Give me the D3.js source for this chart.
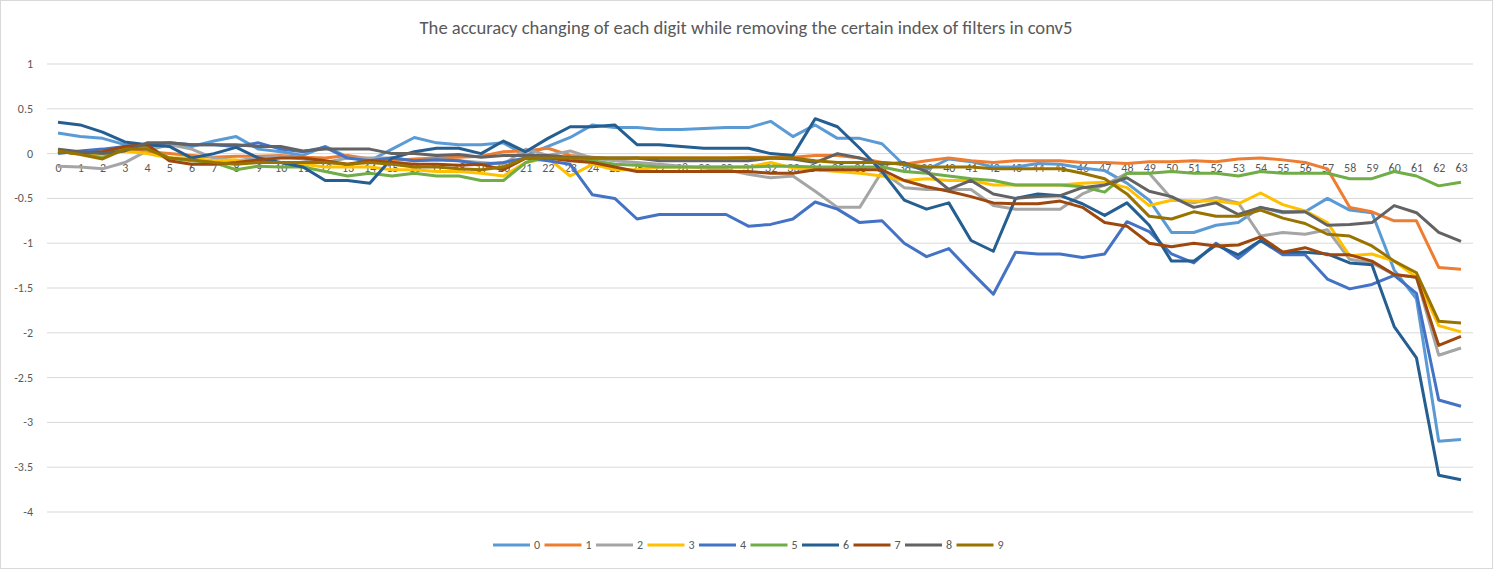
<!DOCTYPE html>
<html>
<head>
<meta charset="utf-8">
<script src="https://cdn.jsdelivr.net/npm/d3@7"></script>
<style>
  body { margin: 0; background: #fff; }
  text { font-family: Carlito, Calibri, "Liberation Sans", sans-serif; fill: #595959; }
</style>
</head>
<body>
<svg id="chart" width="1493" height="569"></svg>
<script>
const indices = d3.range(64);
const seriesNames = ["0", "1", "2", "3", "4", "5", "6", "7", "8", "9"];
const colors = ["#5B9BD5", "#ED7D31", "#A5A5A5", "#FFC000", "#4472C4", "#70AD47", "#255E91", "#9E480E", "#636363", "#997300"];
const yTicks = [1, 0.5, 0, -0.5, -1, -1.5, -2, -2.5, -3, -3.5, -4];

const d0 = [0.23,0.19,0.17,0.1,0.08,0.1,0.08,0.14,0.19,0.05,0.02,-0.02,0.08,-0.04,-0.08,0.05,0.18,0.12,0.1,0.1,0.12,-0.02,0.08,0.18,0.32,0.29,0.29,0.27,0.27,0.28,0.29,0.29,0.36,0.19,0.32,0.17,0.17,0.11,-0.13,-0.18,-0.06,-0.09,-0.15,-0.15,-0.11,-0.12,-0.16,-0.19,-0.33,-0.52,-0.88,-0.88,-0.80,-0.77,-0.6,-0.66,-0.65,-0.5,-0.63,-0.66,-1.3,-1.62,-3.21,-3.19];
const d1 = [0.02,0,0.02,0.05,0.02,0,-0.02,-0.04,-0.03,-0.03,-0.02,-0.04,-0.05,-0.02,-0.06,-0.08,-0.06,-0.05,-0.04,-0.03,0.02,0.03,0.06,-0.02,-0.04,-0.06,-0.05,-0.05,-0.05,-0.05,-0.05,-0.04,-0.04,-0.04,-0.02,-0.02,-0.05,-0.1,-0.12,-0.08,-0.05,-0.08,-0.1,-0.08,-0.08,-0.08,-0.1,-0.1,-0.11,-0.09,-0.09,-0.08,-0.09,-0.06,-0.05,-0.07,-0.1,-0.17,-0.6,-0.65,-0.75,-0.75,-1.27,-1.29];
const d2 = [-0.14,-0.15,-0.17,-0.1,0.03,0.1,0.05,-0.05,-0.08,-0.05,-0.03,-0.06,-0.1,-0.05,-0.05,-0.05,-0.08,-0.07,-0.08,-0.1,-0.12,0.05,-0.02,0.03,-0.05,-0.08,-0.1,-0.12,-0.14,-0.16,-0.18,-0.23,-0.27,-0.25,-0.42,-0.6,-0.6,-0.2,-0.38,-0.4,-0.4,-0.4,-0.58,-0.62,-0.62,-0.62,-0.45,-0.35,-0.22,-0.22,-0.5,-0.55,-0.49,-0.55,-0.92,-0.88,-0.9,-0.85,-1.18,-1.22,-1.35,-1.38,-2.25,-2.17];
const d3v = [0.05,0,-0.02,0.03,0,-0.05,-0.05,-0.08,-0.07,-0.1,-0.1,-0.12,-0.15,-0.15,-0.15,-0.18,-0.18,-0.2,-0.2,-0.22,-0.25,-0.1,-0.05,-0.25,-0.12,-0.18,-0.18,-0.15,-0.15,-0.15,-0.15,-0.15,-0.1,-0.16,-0.18,-0.2,-0.22,-0.25,-0.3,-0.28,-0.3,-0.3,-0.35,-0.35,-0.35,-0.35,-0.33,-0.32,-0.38,-0.58,-0.52,-0.53,-0.53,-0.56,-0.44,-0.57,-0.64,-0.77,-1.14,-1.12,-1.2,-1.38,-1.92,-1.99];
const d4 = [0,0.03,0.05,0.08,0.1,0.12,0.1,0.1,0.08,0.12,0.05,0.02,0.07,-0.05,-0.08,-0.05,-0.08,-0.07,-0.08,-0.12,-0.1,-0.05,-0.08,-0.12,-0.46,-0.5,-0.73,-0.68,-0.68,-0.68,-0.68,-0.81,-0.79,-0.73,-0.54,-0.62,-0.77,-0.75,-1.0,-1.15,-1.06,-1.32,-1.57,-1.1,-1.12,-1.12,-1.16,-1.12,-0.76,-0.87,-1.12,-1.22,-1.0,-1.17,-0.97,-1.13,-1.13,-1.4,-1.51,-1.46,-1.36,-1.56,-2.75,-2.82];
const d5 = [0.02,0,-0.05,0.08,0.08,-0.05,-0.08,-0.1,-0.18,-0.14,-0.15,-0.15,-0.2,-0.25,-0.22,-0.25,-0.22,-0.25,-0.25,-0.3,-0.3,-0.1,-0.03,-0.05,-0.08,-0.12,-0.13,-0.15,-0.15,-0.15,-0.15,-0.15,-0.14,-0.14,-0.15,-0.15,-0.15,-0.15,-0.2,-0.22,-0.25,-0.28,-0.3,-0.35,-0.35,-0.35,-0.37,-0.43,-0.22,-0.22,-0.2,-0.22,-0.22,-0.25,-0.2,-0.22,-0.22,-0.22,-0.28,-0.28,-0.2,-0.25,-0.36,-0.32];
const d6 = [0.35,0.32,0.24,0.13,0.1,0.08,-0.05,0,0.07,-0.05,-0.1,-0.15,-0.3,-0.3,-0.33,-0.05,0.02,0.06,0.06,0,0.14,0.02,0.17,0.3,0.3,0.32,0.1,0.1,0.08,0.06,0.06,0.06,0,-0.02,0.39,0.3,0.06,-0.2,-0.52,-0.62,-0.55,-0.97,-1.09,-0.5,-0.45,-0.47,-0.56,-0.69,-0.55,-0.8,-1.2,-1.2,-1.02,-1.13,-0.97,-1.1,-1.1,-1.12,-1.22,-1.24,-1.93,-2.28,-3.59,-3.64];
const d7 = [0.02,0,0.02,0.08,0.1,-0.08,-0.12,-0.12,-0.1,-0.07,-0.05,-0.05,-0.08,-0.12,-0.08,-0.1,-0.12,-0.12,-0.13,-0.12,-0.18,-0.05,-0.05,-0.08,-0.1,-0.15,-0.2,-0.2,-0.2,-0.2,-0.2,-0.2,-0.22,-0.22,-0.18,-0.18,-0.18,-0.18,-0.3,-0.37,-0.42,-0.48,-0.55,-0.56,-0.56,-0.53,-0.6,-0.77,-0.81,-1.0,-1.04,-1.0,-1.03,-1.02,-0.93,-1.1,-1.05,-1.13,-1.13,-1.2,-1.35,-1.38,-2.14,-2.04];
const d8 = [0.05,0.02,0,0.03,0.12,0.12,0.1,0.1,0.1,0.08,0.08,0.03,0.05,0.05,0.05,0,0,-0.02,-0.01,-0.04,-0.02,-0.02,-0.02,-0.04,-0.05,-0.05,-0.05,-0.08,-0.08,-0.08,-0.08,-0.08,-0.05,-0.06,-0.1,0,-0.05,-0.12,-0.1,-0.2,-0.4,-0.3,-0.45,-0.5,-0.48,-0.47,-0.38,-0.35,-0.27,-0.42,-0.48,-0.6,-0.55,-0.68,-0.6,-0.65,-0.65,-0.8,-0.79,-0.77,-0.58,-0.66,-0.88,-0.98];
const d9 = [0.03,-0.01,-0.06,0.05,0.05,-0.05,-0.07,-0.1,-0.12,-0.1,-0.1,-0.1,-0.1,-0.12,-0.1,-0.12,-0.15,-0.15,-0.17,-0.18,-0.15,-0.05,-0.05,-0.05,-0.05,-0.05,-0.05,-0.05,-0.05,-0.05,-0.05,-0.05,-0.05,-0.05,-0.08,-0.1,-0.1,-0.1,-0.12,-0.15,-0.15,-0.15,-0.17,-0.17,-0.17,-0.17,-0.22,-0.28,-0.45,-0.7,-0.73,-0.65,-0.7,-0.7,-0.63,-0.72,-0.78,-0.9,-0.92,-1.03,-1.2,-1.33,-1.87,-1.89];
const seriesData = [d0, d1, d2, d3v, d4, d5, d6, d7, d8, d9];

const svg = d3.select("#chart");

// chart border
svg.append("rect")
    .attr("x", 0.5).attr("y", 0.5)
    .attr("width", 1492).attr("height", 568)
    .attr("fill", "#fff").attr("stroke", "#d9d9d9");

svg.append("text")
    .attr("x", 746).attr("y", 34)
    .attr("text-anchor", "middle")
    .attr("font-size", 18.6)
    .text("The accuracy changing of each digit while removing the certain index of filters in conv5");

const x = d3.scalePoint().domain(indices).range([58, 1461]);
const y = d3.scaleLinear().domain([-4, 1]).range([512, 64]);

// gridlines
svg.append("g")
    .selectAll("line")
    .data(yTicks)
    .join("line")
    .attr("x1", 47).attr("x2", 1473)
    .attr("y1", d => y(d)).attr("y2", d => y(d))
    .attr("stroke", "#d9d9d9").attr("stroke-width", 1);

// y labels
svg.append("g")
    .selectAll("text")
    .data(yTicks)
    .join("text")
    .attr("x", 33).attr("y", d => y(d) + 4)
    .attr("text-anchor", "end")
    .attr("font-size", 12)
    .text(d => d);

// x labels sit just under the zero line
const xAxis = d3.axisBottom(x).tickSize(0).tickPadding(6);
const gx = svg.append("g").attr("transform", `translate(0,${y(0) + 4})`).call(xAxis);
gx.select(".domain").remove();
gx.selectAll("text").attr("font-size", 12).attr("fill", "#595959")
    .style("font-family", "Carlito, Calibri, 'Liberation Sans', sans-serif");

const line = d3.line().x((d, i) => x(i)).y(d => y(d));

svg.append("g")
    .selectAll("path")
    .data(seriesData)
    .join("path")
    .attr("d", line)
    .attr("fill", "none")
    .attr("stroke", (d, i) => colors[i])
    .attr("stroke-width", 3)
    .attr("stroke-linejoin", "round");

// legend
const legend = svg.append("g").attr("transform", "translate(493,545)");
const item = legend.selectAll("g")
    .data(seriesNames)
    .join("g")
    .attr("transform", (d, i) => `translate(${i * 51.5},0)`);
item.append("line")
    .attr("x1", 0).attr("x2", 37)
    .attr("stroke", (d, i) => colors[i])
    .attr("stroke-width", 3);
item.append("text")
    .attr("x", 41).attr("y", 4)
    .attr("font-size", 12)
    .text(d => d);
</script>
</body>
</html>
